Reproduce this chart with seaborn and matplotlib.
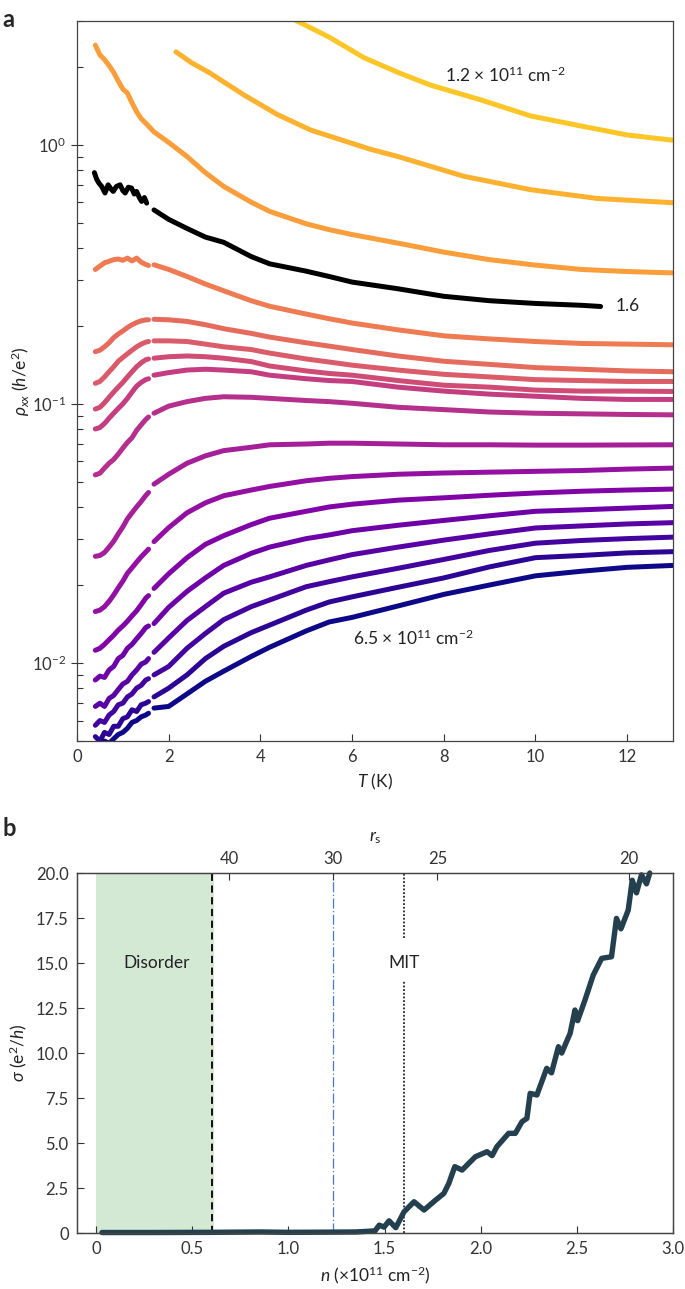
import numpy as np
import pandas as pd
import matplotlib
matplotlib.use("Agg")
import matplotlib.pyplot as plt
import seaborn as sns
from matplotlib.ticker import FixedLocator, FuncFormatter, LogLocator, NullFormatter

# ---------------- data: panel a ----------------
T_LO = [0.4, 0.5, 0.6, 0.7, 0.8, 0.9, 1.0, 1.1, 1.2, 1.3, 1.4, 1.5, 1.56]
T_HI = [1.68, 2.0, 2.4, 2.8, 3.2, 3.8, 4.2, 5.0, 5.5, 6.0, 7.0, 8.0, 9.0, 10.0, 11.0, 12.0, 13.0]

# 1.2e11 (top, yellow)
T_c01 = [3.5, 4.2, 4.8, 5.5, 6.25, 7.0, 7.7, 8.8, 9.9, 11.0, 12.0, 13.0]
rho_c01 = [4.3, 3.5, 3.0, 2.6, 2.17, 1.9, 1.70, 1.49, 1.29, 1.18, 1.09, 1.04]
T_c02 = [2.16, 2.5, 2.9, 3.63, 4.36, 5.09, 5.5, 6.4, 7.0, 8.44, 9.9, 11.35, 13.0]
rho_c02 = [2.28, 2.07, 1.89, 1.56, 1.31, 1.14, 1.08, 0.96, 0.90, 0.755, 0.67, 0.62, 0.597]
rho_c03_lo = [2.42, 2.22, 2.13, 2.02, 1.90, 1.76, 1.64, 1.58, 1.45, 1.34, 1.26, 1.21, 1.18]
rho_c03_hi = [1.12, 1.02, 0.90, 0.78, 0.69, 0.60, 0.553, 0.495, 0.47, 0.45, 0.417, 0.385, 0.36, 0.343, 0.33, 0.324, 0.32]
# 1.6e11 (black)
T_c04_lo = [0.38, 0.43, 0.48, 0.54, 0.61, 0.68, 0.74, 0.79, 0.86, 0.94, 1.0, 1.05, 1.12, 1.19, 1.25, 1.30, 1.36, 1.41, 1.47, 1.52]
rho_c04_lo = [0.78, 0.735, 0.71, 0.69, 0.651, 0.70, 0.675, 0.66, 0.69, 0.70, 0.665, 0.651, 0.685, 0.68, 0.645, 0.66, 0.625, 0.604, 0.625, 0.595]
T_c04_hi = [1.68, 2.0, 2.4, 2.8, 3.2, 3.8, 4.2, 5.0, 5.5, 6.0, 7.0, 8.0, 9.0, 10.0, 11.0, 11.42]
rho_c04_hi = [0.56, 0.515, 0.475, 0.44, 0.42, 0.37, 0.347, 0.325, 0.31, 0.295, 0.278, 0.26, 0.25, 0.244, 0.24, 0.2375]
rho_c05_lo = [0.33, 0.34, 0.35, 0.355, 0.36, 0.362, 0.358, 0.365, 0.356, 0.365, 0.352, 0.345, 0.342]
rho_c05_hi = [0.344, 0.33, 0.31, 0.29, 0.273, 0.25, 0.238, 0.222, 0.213, 0.205, 0.193, 0.183, 0.178, 0.174, 0.171, 0.17, 0.169]
rho_c06_lo = [0.159, 0.161, 0.166, 0.172, 0.180, 0.186, 0.191, 0.197, 0.202, 0.206, 0.209, 0.211, 0.211]
rho_c06_hi = [0.212, 0.211, 0.208, 0.202, 0.195, 0.187, 0.181, 0.172, 0.167, 0.162, 0.153, 0.146, 0.142, 0.138, 0.136, 0.134, 0.133]
rho_c07_lo = [0.120, 0.122, 0.127, 0.133, 0.139, 0.146, 0.151, 0.156, 0.161, 0.166, 0.170, 0.173, 0.174]
rho_c07_hi = [0.175, 0.175, 0.174, 0.170, 0.166, 0.162, 0.157, 0.149, 0.145, 0.141, 0.135, 0.130, 0.127, 0.124, 0.123, 0.122, 0.122]
rho_c08_lo = [0.0955, 0.097, 0.101, 0.106, 0.111, 0.116, 0.121, 0.127, 0.133, 0.139, 0.144, 0.148, 0.149]
rho_c08_hi = [0.150, 0.152, 0.153, 0.152, 0.150, 0.1456, 0.140, 0.134, 0.131, 0.129, 0.123, 0.118, 0.116, 0.113, 0.112, 0.112, 0.1116]
rho_c09_lo = [0.080, 0.081, 0.084, 0.088, 0.092, 0.096, 0.100, 0.105, 0.111, 0.117, 0.121, 0.124, 0.125]
rho_c09_hi = [0.129, 0.132, 0.135, 0.136, 0.135, 0.133, 0.129, 0.125, 0.123, 0.122, 0.116, 0.112, 0.109, 0.107, 0.105, 0.104, 0.104]
rho_c10_lo = [0.0532, 0.054, 0.0565, 0.059, 0.061, 0.064, 0.0675, 0.071, 0.074, 0.079, 0.083, 0.087, 0.089]
rho_c10_hi = [0.092, 0.098, 0.102, 0.105, 0.1065, 0.106, 0.105, 0.103, 0.102, 0.1005, 0.097, 0.095, 0.093, 0.092, 0.0915, 0.091, 0.0907]
rho_c11_lo = [0.0258, 0.026, 0.0267, 0.028, 0.0295, 0.0315, 0.0335, 0.036, 0.038, 0.040, 0.042, 0.0443, 0.0455]
rho_c11_hi = [0.049, 0.0535, 0.059, 0.063, 0.066, 0.068, 0.0695, 0.070, 0.0705, 0.0705, 0.070, 0.0695, 0.0695, 0.0693, 0.0693, 0.0694, 0.0695]
rho_c12_lo = [0.0158, 0.0160, 0.0165, 0.0173, 0.0183, 0.0195, 0.0207, 0.0222, 0.0233, 0.0245, 0.0257, 0.0268, 0.0275]
rho_c12_hi = [0.0294, 0.0333, 0.038, 0.0415, 0.0442, 0.0465, 0.048, 0.0505, 0.0516, 0.0524, 0.0535, 0.0541, 0.0545, 0.0549, 0.0553, 0.056, 0.0565]
rho_c13_lo = [0.0112, 0.0114, 0.0118, 0.0123, 0.0128, 0.0134, 0.0139, 0.0145, 0.0152, 0.0159, 0.0168, 0.0178, 0.0182]
rho_c13_hi = [0.0194, 0.0221, 0.0255, 0.0287, 0.031, 0.0342, 0.0362, 0.0385, 0.040, 0.041, 0.0425, 0.0434, 0.0444, 0.0453, 0.046, 0.0465, 0.0469]
rho_c14_lo = [0.0086, 0.0089, 0.0088, 0.0094, 0.0097, 0.0104, 0.0107, 0.0114, 0.0118, 0.0124, 0.0130, 0.0137, 0.0139]
rho_c14_hi = [0.0142, 0.0164, 0.0189, 0.0213, 0.0238, 0.0265, 0.028, 0.0302, 0.0312, 0.0324, 0.034, 0.0355, 0.037, 0.0385, 0.039, 0.0396, 0.0402]
rho_c15_lo = [0.0068, 0.0070, 0.0068, 0.0073, 0.0075, 0.0079, 0.0083, 0.0085, 0.0090, 0.0094, 0.0099, 0.0101, 0.0104]
rho_c15_hi = [0.0110, 0.0125, 0.0146, 0.0165, 0.0186, 0.0205, 0.0215, 0.0238, 0.025, 0.0262, 0.028, 0.0298, 0.0315, 0.0332, 0.0338, 0.0344, 0.0348]
rho_c16_lo = [0.00575, 0.0060, 0.0059, 0.0063, 0.0065, 0.0069, 0.0070, 0.0074, 0.0076, 0.0080, 0.0082, 0.0086, 0.0087]
rho_c16_hi = [0.0090, 0.0097, 0.0114, 0.0130, 0.0147, 0.0165, 0.0175, 0.0197, 0.0206, 0.0215, 0.0232, 0.0251, 0.0272, 0.029, 0.0297, 0.0302, 0.0306]
rho_c17_lo = [0.0052, 0.0050, 0.0054, 0.0053, 0.0057, 0.0057, 0.0061, 0.0062, 0.0066, 0.0065, 0.0069, 0.0070, 0.0071]
rho_c17_hi = [0.0074, 0.0080, 0.0090, 0.0104, 0.0116, 0.0131, 0.0140, 0.0160, 0.0172, 0.018, 0.0196, 0.0213, 0.0235, 0.0255, 0.026, 0.0266, 0.0269]
rho_c18_lo = [0.0049, 0.0048, 0.0050, 0.0049, 0.0051, 0.0053, 0.0054, 0.0056, 0.0059, 0.0060, 0.0062, 0.0063, 0.0064]
rho_c18_hi = [0.0067, 0.0068, 0.0076, 0.0085, 0.0093, 0.0106, 0.0115, 0.0133, 0.0144, 0.0150, 0.0166, 0.0184, 0.0200, 0.0217, 0.0226, 0.0234, 0.0238]

# ---------------- data: panel b ----------------
n_vals = [0.03, 0.3, 0.6, 0.85, 1.0, 1.2, 1.35, 1.45, 1.472, 1.497, 1.523, 1.558, 1.601, 1.653,
          1.705, 1.765, 1.808, 1.834, 1.865, 1.903, 1.972, 2.033, 2.059, 2.084, 2.145, 2.18,
          2.214, 2.24, 2.257, 2.292, 2.343, 2.368, 2.404, 2.421, 2.465, 2.49, 2.504, 2.542,
          2.568, 2.585, 2.629, 2.68, 2.706, 2.729, 2.767, 2.788, 2.81, 2.836, 2.862, 2.879]
sigma_vals = [0.03, 0.03, 0.04, 0.06, 0.04, 0.05, 0.06, 0.12, 0.44, 0.33, 0.68, 0.30, 1.18, 1.74,
              1.28, 1.83, 2.2, 2.76, 3.69, 3.5, 4.24, 4.52, 4.3, 4.8, 5.54, 5.54,
              6.18, 6.37, 7.76, 7.67, 9.15, 8.9, 10.35, 10.0, 11.1, 12.39, 11.8, 12.94,
              13.78, 14.33, 15.26, 15.35, 17.48, 16.9, 17.94, 19.6, 18.9, 19.9, 19.4, 20.0]
rs_ticks = [40, 30, 25, 20]
RS_CONST = 33.3          # r_s = RS_CONST / sqrt(n)
n_disorder = 0.6
n_disorder_span = 0.615
n_rs30 = 1.232
n_mit = 1.6

# ---------------- style ----------------
sns.set_theme(style="ticks")
plt.rcParams["font.family"] = ["Lato", "DejaVu Sans"]
plt.rcParams["mathtext.fontset"] = "custom"
plt.rcParams["mathtext.rm"] = "Lato"
plt.rcParams["mathtext.it"] = "Lato:italic"
plt.rcParams["mathtext.bf"] = "Lato:bold"
plt.rcParams["axes.edgecolor"] = "#444444"
plt.rcParams["axes.linewidth"] = 0.9

TICK_FS = 12
LAB_FS = 12.5
ANN_FS = 12.5
TXT = "#222222"

fig = plt.figure(figsize=(6.85, 12.89), dpi=100)
axA = fig.add_axes([0.1124, 0.4251, 0.8701, 0.5586])
axB = fig.add_axes([0.1124, 0.0434, 0.8701, 0.2793])

# colours: plasma, bottom (high n) to top (low n)
cmap = plt.get_cmap("plasma")
cols = [cmap(v) for v in np.linspace(0.0, 0.88, 18)]  # index 0 = bottom curve
LW = 3.6

def draw(T, rho, idx, color=None):
    c = color if color is not None else cols[17 - idx]
    sns.lineplot(x=T, y=rho, ax=axA, color=c, lw=LW, estimator=None, sort=False,
                 solid_capstyle="round", solid_joinstyle="round")

low_curves = [
    (5, rho_c05_lo, rho_c05_hi), (6, rho_c06_lo, rho_c06_hi), (7, rho_c07_lo, rho_c07_hi),
    (8, rho_c08_lo, rho_c08_hi), (9, rho_c09_lo, rho_c09_hi), (10, rho_c10_lo, rho_c10_hi),
    (11, rho_c11_lo, rho_c11_hi), (12, rho_c12_lo, rho_c12_hi), (13, rho_c13_lo, rho_c13_hi),
    (14, rho_c14_lo, rho_c14_hi), (15, rho_c15_lo, rho_c15_hi), (16, rho_c16_lo, rho_c16_hi),
    (17, rho_c17_lo, rho_c17_hi), (18, rho_c18_lo, rho_c18_hi)]

draw(T_c01, rho_c01, 0)
draw(T_c02, rho_c02, 1)
draw(T_LO + T_HI, rho_c03_lo + rho_c03_hi, 2)
for k, lo, hi in low_curves:
    draw(T_LO, lo, k - 1)
    draw(T_HI, hi, k - 1)
draw(T_c04_lo, rho_c04_lo, 3, color="black")
draw(T_c04_hi, rho_c04_hi, 3, color="black")

axA.set_yscale("log")
axA.set_xlim(0, 13)
axA.set_ylim(0.005, 3.0)
axA.set_xticks([0, 2, 4, 6, 8, 10, 12])
axA.yaxis.set_major_locator(LogLocator(base=10, numticks=10))
axA.yaxis.set_minor_locator(LogLocator(base=10, subs=np.arange(2, 10), numticks=20))
axA.yaxis.set_minor_formatter(NullFormatter())
axA.tick_params(axis="x", direction="in", length=5, width=0.8, labelsize=TICK_FS, colors="#333333", pad=6)
axA.tick_params(axis="y", which="major", direction="inout", length=9, width=0.8, labelsize=TICK_FS, colors="#333333")
axA.tick_params(axis="y", which="minor", direction="in", length=4, width=0.8, colors="#333333")
axA.set_xlabel("$T$ (K)", fontsize=LAB_FS, labelpad=5, color=TXT)
axA.set_ylabel(r"$\rho_{xx}$ ($h$/e$^{2}$)", fontsize=LAB_FS, labelpad=0, color=TXT)
for s in axA.spines.values():
    s.set_visible(True)

axA.text(9.35, 1.86, r"1.2 × 10$^{11}$ cm$^{-2}$", fontsize=ANN_FS, ha="center", va="center", color=TXT)
axA.text(7.34, 0.0125, r"6.5 × 10$^{11}$ cm$^{-2}$", fontsize=ANN_FS, ha="center", va="center", color=TXT)
axA.text(11.75, 0.2375, "1.6", fontsize=ANN_FS, ha="left", va="center", color=TXT)

# ---------------- panel b ----------------
axB.axvspan(0, n_disorder_span, color="#d4e9d3", lw=0, zorder=0)
axB.axvline(n_disorder, color="black", ls=(0, (4, 2.5)), lw=1.3, zorder=1)
axB.axvline(n_rs30, color="#4a78c8", ls=(0, (8, 2, 1, 2)), lw=0.9, zorder=1)
axB.axvline(n_mit, ymin=0, ymax=14.0 / 20, color="black", ls=(0, (1.2, 1.2)), lw=1.1, zorder=1)
axB.axvline(n_mit, ymin=16.4 / 20, ymax=1, color="black", ls=(0, (1.2, 1.2)), lw=1.1, zorder=1)

sns.lineplot(x=n_vals, y=sigma_vals, ax=axB, color="#24404e", lw=3.9, estimator=None, sort=False,
             solid_capstyle="round", solid_joinstyle="round", clip_on=False, zorder=3)

axB.set_xlim(-0.1, 3.0)
axB.set_ylim(0, 20)
axB.set_xticks([0, 0.5, 1.0, 1.5, 2.0, 2.5, 3.0])
axB.set_yticks(np.arange(0, 20.1, 2.5))
axB.xaxis.set_major_formatter(FuncFormatter(lambda v, p: "0" if v == 0 else f"{v:.1f}"))
axB.yaxis.set_major_formatter(FuncFormatter(lambda v, p: "0" if v == 0 else f"{v:.1f}"))
axB.tick_params(direction="in", length=5, width=0.8, labelsize=TICK_FS, colors="#333333", pad=6)
axB.set_xlabel(r"$n$ (×10$^{11}$ cm$^{-2}$)", fontsize=LAB_FS, labelpad=5, color=TXT)
axB.set_ylabel(r"$\sigma$ (e$^{2}$/$h$)", fontsize=LAB_FS, labelpad=5, color=TXT)
for s in axB.spines.values():
    s.set_visible(True)

axB.text(0.315, 15.0, "Disorder", fontsize=ANN_FS, ha="center", va="center", color=TXT)
axB.text(n_mit, 15.0, "MIT", fontsize=ANN_FS, ha="center", va="center", color=TXT)

axT = axB.twiny()
axT.set_xlim(axB.get_xlim())
axT.set_xticks([(RS_CONST / r) ** 2 for r in rs_ticks])
axT.set_xticklabels([str(r) for r in rs_ticks])
axT.tick_params(direction="in", length=5, width=0.8, labelsize=TICK_FS, colors="#333333", pad=4)
axT.set_xlabel(r"$r_{\rm s}$", fontsize=LAB_FS, labelpad=7, color=TXT)

fig.text(0.003, 0.994, "a", fontsize=17, fontweight="bold", va="top", ha="left")
fig.text(0.003, 0.366, "b", fontsize=17, fontweight="bold", va="top", ha="left")

fig.savefig("out.png", dpi=100)
